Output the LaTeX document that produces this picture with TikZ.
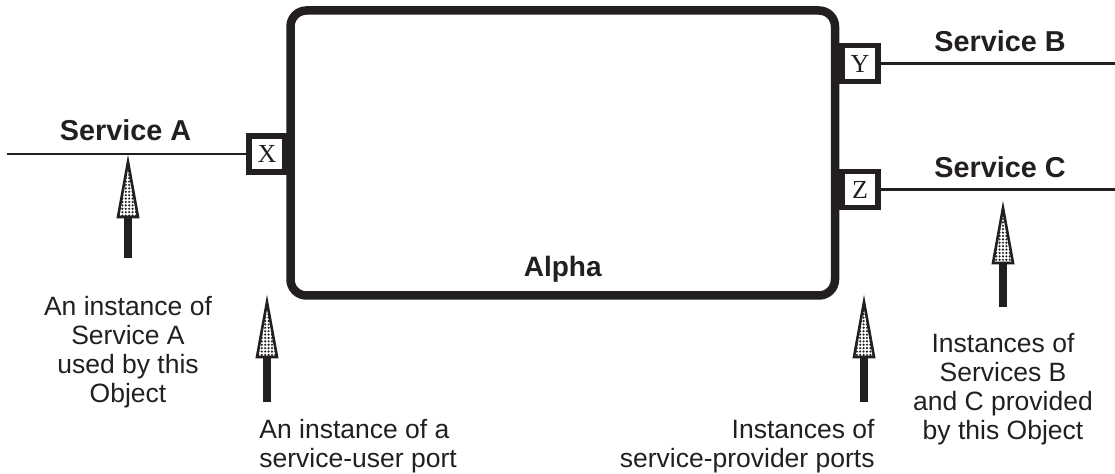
\documentclass[tikz,border=0pt]{standalone}
\usepackage{fontspec}
\setmainfont{Liberation Sans}
\newfontfamily\portfont{Liberation Serif}
\usepackage{tikz}
\usetikzlibrary{calc,positioning,patterns.meta}
\definecolor{ObjInk}{HTML}{231F20}
\tikzstyle{objbox} = [draw=ObjInk,line width=4.25pt,rounded corners=8pt,minimum width=272.25pt,minimum height=142.5pt,inner sep=0pt,outer sep=0pt]
\tikzstyle{port} = [draw=ObjInk,fill=white,line width=2.75pt,minimum size=18pt,inner sep=0pt,outer sep=0pt,text=ObjInk,font=\portfont\fontsize{13}{15}\selectfont]
\tikzstyle{wire} = [draw=ObjInk,line width=1.2pt]
\tikzstyle{servlabel} = [inner sep=0pt,anchor=base,text=ObjInk,font=\bfseries\fontsize{14.4}{16}\selectfont]
\tikzstyle{note} = [inner sep=0pt,text=ObjInk,font=\fontsize{13.25}{14.5}\selectfont]
\tikzstyle{shaft} = [draw=ObjInk,line width=4pt]
\tikzstyle{head} = [draw=ObjInk,line width=1.3pt,line join=miter,pattern={Dots[distance=1.7pt,radius=0.6pt]},pattern color=ObjInk]
% foot, tip
\newcommand{\instarrow}[2]{%
	\draw[shaft] (#1) -- ($(#2)+(0,54)$);
	\draw[head] (#2) -- ($(#2)+(-10,55)$) -- ($(#2)+(10,55)$) -- cycle;}
\begin{document}
\begin{tikzpicture}[x=0.5pt,y=-0.5pt]
	\useasboundingbox (0,0) rectangle (1115,474);
	\node[objbox] (alpha) at (562.75,153) {};
	\node[servlabel,font=\bfseries\fontsize{14}{16}\selectfont] (alphaname) at ([yshift=9.25pt]alpha.south) {Alpha};
	
	\node[port] (px) at (267,154) {X};
	\node[port] (py) at (860,63.5) {Y};
	\node[port] (pz) at (860,189.5) {Z};
	
	\coordinate (endA) at (7,154);
	\coordinate (endB) at (1115,63.5);
	\coordinate (endC) at (1115,189.5);
	\draw[wire] (endA) -- (px);
	\draw[wire] (py) -- (endB);
	\draw[wire] (pz) -- (endC);
	
	\node[servlabel] (labA) at (125.5,141) {Service A};
	\node[servlabel] (labB) at (1000,52) {Service B};
	\node[servlabel] (labC) at (1000,178) {Service C};
	
	\coordinate (footA) at (128,258);  \coordinate (tipA) at (128,162);
	\coordinate (footU) at (267,402);  \coordinate (tipU) at (267,302);
	\coordinate (footP) at (864,402);  \coordinate (tipP) at (864,302);
	\coordinate (footBC) at (1003,307); \coordinate (tipBC) at (1003,208);
	\instarrow{footA}{tipA}
	\instarrow{footU}{tipU}
	\instarrow{footP}{tipP}
	\instarrow{footBC}{tipBC}
	
	\node[note,align=center,below=19pt of footA] (noteA) {An instance of\\Service A\\used by this\\Object};
	\node[note,align=left,anchor=north west] (noteU) at (259,419) {An instance of a\\service-user port};
	\node[note,align=right,anchor=north east] (noteP) at (875,419) {Instances of\\service-provider ports};
	\node[note,align=center,below=13pt of footBC] (noteBC) {Instances of\\Services B\\and C provided\\by this Object};
\end{tikzpicture}
\end{document}
